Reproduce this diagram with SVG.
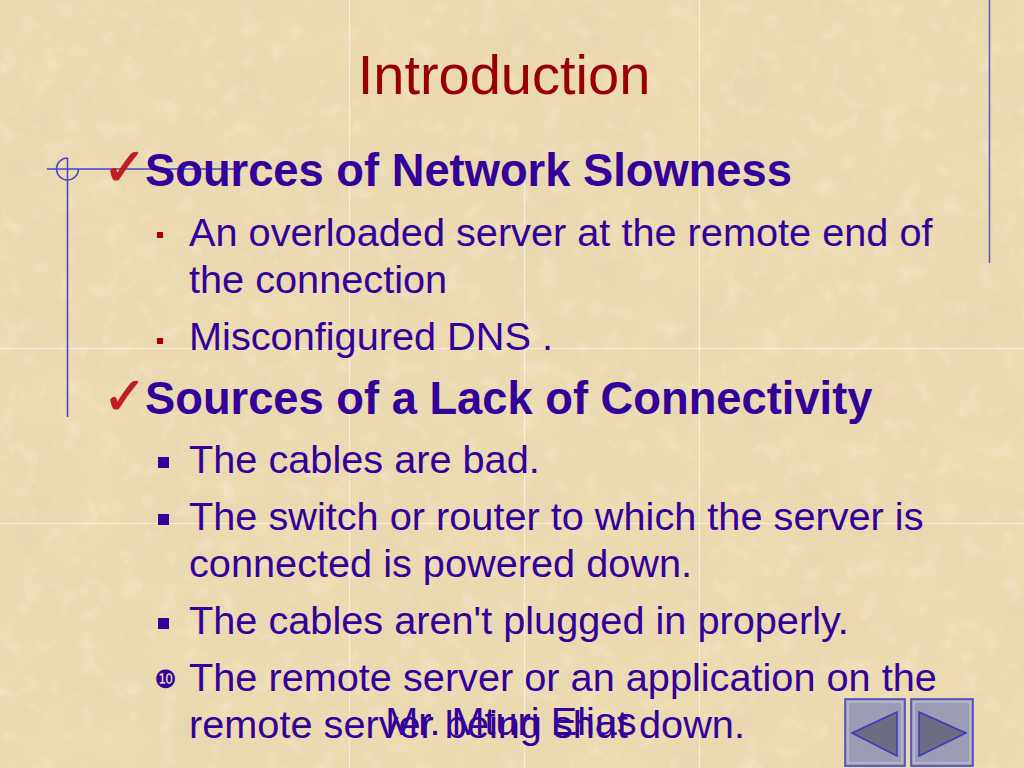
<svg xmlns="http://www.w3.org/2000/svg" width="1024" height="768" viewBox="0 0 1024 768">
<style>
.title{font-family:"Liberation Sans",Arial,sans-serif;font-size:56px;fill:#990000}
.h1{font-family:"Liberation Sans",Arial,sans-serif;font-size:45.3px;font-weight:bold;fill:#330099}
.t2{font-family:"Liberation Sans",Arial,sans-serif;font-size:39.7px;fill:#330099}
.chk{font-family:"DejaVu Sans",sans-serif;font-size:52px;font-weight:bold;fill:#C01E22;stroke:#C01E22;stroke-width:1.2}
.deco{stroke:#4343C8;stroke-width:1.5;fill:none}
.seam{stroke:#FFFFFF;stroke-width:1;opacity:0.55}
.btn{fill:#9C9CB4;stroke:#4040C0;stroke-width:1.5}
.btnIn{fill:none;stroke:#C4C4DC;stroke-width:1.2}
.tri{fill:#6C6C82;stroke:#3A3AC0;stroke-width:1.5;stroke-linejoin:miter}
</style>
<defs>
<filter id="paper" x="0" y="0" width="100%" height="100%">
<feTurbulence type="fractalNoise" baseFrequency="0.014" numOctaves="4" seed="7" result="n"/>
<feColorMatrix in="n" type="matrix" values="0 0 0 0 0.79  0 0 0 0 0.66  0 0 0 0 0.44  1.1 0 0 0 -0.40"/>
</filter>
<filter id="paper2" x="0" y="0" width="100%" height="100%">
<feTurbulence type="fractalNoise" baseFrequency="0.05" numOctaves="3" seed="12" result="n"/>
<feColorMatrix in="n" type="matrix" values="0 0 0 0 1  0 0 0 0 0.97  0 0 0 0 0.88  0 0.7 0 0 -0.38"/>
</filter>
</defs>
<g id="background">
<rect x="0" y="0" width="1024" height="768" fill="#ECDAB1"/>
<rect x="0" y="0" width="1024" height="768" filter="url(#paper)"/>
<rect x="0" y="0" width="1024" height="768" filter="url(#paper2)"/>
<line class="seam" x1="349.5" y1="0" x2="349.5" y2="768"/>
<line class="seam" x1="524.5" y1="174" x2="524.5" y2="768"/>
<line class="seam" x1="699.5" y1="0" x2="699.5" y2="768"/>
<line class="seam" x1="0" y1="348.5" x2="1024" y2="348.5"/>
<line class="seam" x1="0" y1="523.5" x2="1024" y2="523.5"/>
</g>
<g id="decoration">
<line class="deco" x1="47" y1="169" x2="240" y2="169"/>
<line class="deco" x1="67.5" y1="158" x2="67.5" y2="417"/>
<path class="deco" d="M67.5,158 A11,11 0 1,0 78.5,169"/>
<line class="deco" x1="989.5" y1="0" x2="989.5" y2="263" style="stroke:#5A5AB8"/>
</g>
<g id="title">
<text class="title" x="504" y="94" text-anchor="middle">Introduction</text>
</g>
<g id="section-slowness">
<text class="chk" x="103" y="185">✓</text>
<text class="h1" x="145" y="186">Sources of Network Slowness</text>
<rect x="157" y="232" width="6" height="6" fill="#990000"/>
<text class="t2" x="189" y="246">An overloaded server at the remote end of</text>
<text class="t2" x="189" y="293">the connection</text>
<rect x="157" y="338" width="6" height="6" fill="#990000"/>
<text class="t2" x="189" y="350">Misconfigured DNS .</text>
</g>
<g id="section-connectivity">
<text class="chk" x="103" y="414">✓</text>
<text class="h1" x="145" y="414">Sources of a Lack of Connectivity</text>
<rect x="158" y="457" width="11" height="11" fill="#330099"/>
<text class="t2" x="189" y="473">The cables are bad.</text>
<rect x="158" y="514" width="11" height="11" fill="#330099"/>
<text class="t2" x="189" y="530">The switch or router to which the server is</text>
<text class="t2" x="189" y="577">connected is powered down.</text>
<rect x="158" y="618" width="11" height="11" fill="#330099"/>
<text class="t2" x="189" y="634">The cables aren't plugged in properly.</text>
<text x="165.5" y="688" text-anchor="middle" style="font-family:'DejaVu Sans',sans-serif;font-size:25px;fill:#330099">❿</text>
<text class="t2" x="189" y="691">The remote server or an application on the</text>
<text class="t2" x="189" y="738">remote server being shut down.</text>
</g>
<g id="footer">
<text class="t2" x="511" y="735" text-anchor="middle">Mr. Mturi Elias</text>
</g>
<g id="nav-prev">
<rect class="btn" x="845" y="699" width="60" height="67"/>
<rect class="btnIn" x="848" y="702" width="54" height="61"/>
<polygon class="tri" points="852,733 897,712 897,756"/>
</g>
<g id="nav-next">
<rect class="btn" x="911" y="699" width="62" height="67"/>
<rect class="btnIn" x="914" y="702" width="56" height="61"/>
<polygon class="tri" points="966,733 919,712 919,756"/>
</g>
</svg>
